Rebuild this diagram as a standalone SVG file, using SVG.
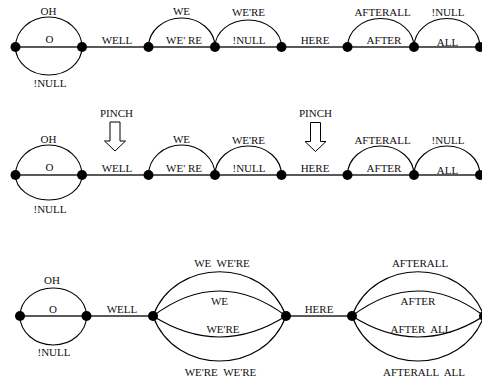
<svg xmlns="http://www.w3.org/2000/svg" width="482" height="381" viewBox="0 0 482 381">
  <style>
    .edge { fill: none; stroke: #000; stroke-width: 1.1; }
    .base { fill: none; stroke: #222; stroke-width: 1.4; }
    .node { fill: #000; }
    .lbl { font-family: "Liberation Serif", "Times New Roman", serif; font-size: 11px; fill: #111; text-anchor: middle; }
    .pinch { fill: #fff; stroke: #000; stroke-width: 1; }
  </style>

  <!-- connectors: straight chains, loops, arcs and lenses -->
  <g id="connectors">
    <!-- row 1 -->
    <line class="base" x1="15.5" y1="47" x2="480" y2="47"/>
    <path class="edge" d="M15.5,47 A33.25,30 0 0 1 82,47"/>
    <path class="edge" d="M15.5,47 A33.25,28 0 0 0 82,47"/>
    <path class="edge" d="M148.5,47 A33.25,29 0 0 1 215,47"/>
    <path class="edge" d="M215,47 A33.25,27 0 0 1 281.5,47"/>
    <path class="edge" d="M347.5,47 A33.25,28.5 0 0 1 414,47"/>
    <path class="edge" d="M414,47 A33,28.5 0 0 1 480,47"/>

    <!-- row 2 -->
    <line class="base" x1="15.5" y1="175" x2="480" y2="175"/>
    <path class="edge" d="M15.5,175 A33.25,30 0 0 1 82,175"/>
    <path class="edge" d="M15.5,175 A33.25,25 0 0 0 82,175"/>
    <path class="edge" d="M148.5,175 A33.25,30 0 0 1 215,175"/>
    <path class="edge" d="M215,175 A33.25,29 0 0 1 281.5,175"/>
    <path class="edge" d="M347.5,175 A33.25,29 0 0 1 414,175"/>
    <path class="edge" d="M414,175 A33,29 0 0 1 480,175"/>

    <!-- row 3 -->
    <line class="base" x1="20" y1="316" x2="153" y2="316"/>
    <line class="base" x1="286" y1="316" x2="352" y2="316"/>
    <path class="edge" d="M20,316 A33.25,28 0 0 1 86.5,316"/>
    <path class="edge" d="M20,316 A33.25,29 0 0 0 86.5,316"/>
    <!-- lens WELL..HERE -->
    <path class="edge" d="M153,316 C175,257 264,257 286,316"/>
    <path class="edge" d="M153,316 Q219.5,266 286,316"/>
    <path class="edge" d="M153,316 Q219.5,358 286,316"/>
    <path class="edge" d="M153,316 C175,376 264,376 286,316"/>
    <!-- lens HERE..end -->
    <path class="edge" d="M352,316 C374,257 462,257 484,316"/>
    <path class="edge" d="M352,316 Q418,266 484,316"/>
    <path class="edge" d="M352,316 Q418,358 484,316"/>
    <path class="edge" d="M352,316 C374,376 462,376 484,316"/>
  </g>

  <!-- pinch arrows -->
  <g id="pinch-arrows">
    <polygon class="pinch" points="110,122 120,122 120,141 125.5,141 115,151 104.5,141 110,141"/>
    <polygon class="pinch" points="310.5,122.5 320.5,122.5 320.5,141.5 326,141.5 315.5,151.5 305,141.5 310.5,141.5"/>
  </g>

  <!-- nodes -->
  <g id="r1n1"><circle class="node" cx="15.5" cy="47" r="5"/></g>
  <g id="r1n2"><circle class="node" cx="82" cy="47" r="5"/></g>
  <g id="r1n3"><circle class="node" cx="148.5" cy="47" r="5"/></g>
  <g id="r1n4"><circle class="node" cx="215" cy="47" r="5"/></g>
  <g id="r1n5"><circle class="node" cx="281.5" cy="47" r="5"/></g>
  <g id="r1n6"><circle class="node" cx="347.5" cy="47" r="5"/></g>
  <g id="r1n7"><circle class="node" cx="414" cy="47" r="5"/></g>
  <g id="r1n8"><circle class="node" cx="480" cy="47" r="5"/></g>

  <g id="r2n1"><circle class="node" cx="15.5" cy="175" r="5"/></g>
  <g id="r2n2"><circle class="node" cx="82" cy="175" r="5"/></g>
  <g id="r2n3"><circle class="node" cx="148.5" cy="175" r="5"/></g>
  <g id="r2n4"><circle class="node" cx="215" cy="175" r="5"/></g>
  <g id="r2n5"><circle class="node" cx="281.5" cy="175" r="5"/></g>
  <g id="r2n6"><circle class="node" cx="347.5" cy="175" r="5"/></g>
  <g id="r2n7"><circle class="node" cx="414" cy="175" r="5"/></g>
  <g id="r2n8"><circle class="node" cx="480" cy="175" r="5"/></g>

  <g id="r3n1"><circle class="node" cx="20" cy="316" r="5"/></g>
  <g id="r3n2"><circle class="node" cx="86.5" cy="316" r="5"/></g>
  <g id="r3n3"><circle class="node" cx="153" cy="316" r="5"/></g>
  <g id="r3n4"><circle class="node" cx="286" cy="316" r="5"/></g>
  <g id="r3n5"><circle class="node" cx="352" cy="316" r="5"/></g>
  <g id="r3n6"><circle class="node" cx="484" cy="316" r="5"/></g>

  <!-- labels -->
  <g id="labels" class="lbl">
    <!-- row 1 -->
    <text x="48.5" y="15">OH</text>
    <text x="49.5" y="43">O</text>
    <text x="50" y="86.5">!NULL</text>
    <text x="117" y="44">WELL</text>
    <text x="181.5" y="15">WE</text>
    <text x="184" y="43.5">WE' RE</text>
    <text x="248.5" y="15.5">WE'RE</text>
    <text x="249" y="43.5">!NULL</text>
    <text x="315" y="44">HERE</text>
    <text x="382.5" y="15.5">AFTERALL</text>
    <text x="384" y="44">AFTER</text>
    <text x="448" y="15.5">!NULL</text>
    <text x="447.5" y="45.5">ALL</text>

    <!-- row 2 -->
    <text x="116.5" y="117">PINCH</text>
    <text x="315.5" y="117">PINCH</text>
    <text x="48.5" y="143">OH</text>
    <text x="49.5" y="171">O</text>
    <text x="50" y="213">!NULL</text>
    <text x="117" y="172">WELL</text>
    <text x="181.5" y="143">WE</text>
    <text x="184" y="171.5">WE' RE</text>
    <text x="248.5" y="143.5">WE'RE</text>
    <text x="249" y="171.5">!NULL</text>
    <text x="315" y="172">HERE</text>
    <text x="382.5" y="143.5">AFTERALL</text>
    <text x="384" y="172">AFTER</text>
    <text x="448" y="143.5">!NULL</text>
    <text x="447.5" y="173.5">ALL</text>

    <!-- row 3 -->
    <text x="52" y="284">OH</text>
    <text x="53" y="313">O</text>
    <text x="54" y="356">!NULL</text>
    <text x="122" y="313">WELL</text>
    <text x="222" y="267" xml:space="preserve">WE  WE'RE</text>
    <text x="219.5" y="305">WE</text>
    <text x="223" y="333">WE'RE</text>
    <text x="220.5" y="376" xml:space="preserve">WE'RE  WE'RE</text>
    <text x="319" y="313">HERE</text>
    <text x="420" y="267">AFTERALL</text>
    <text x="418" y="305">AFTER</text>
    <text x="421" y="333" xml:space="preserve">AFTER  ALL</text>
    <text x="424" y="376" xml:space="preserve">AFTERALL  ALL</text>
  </g>
</svg>
